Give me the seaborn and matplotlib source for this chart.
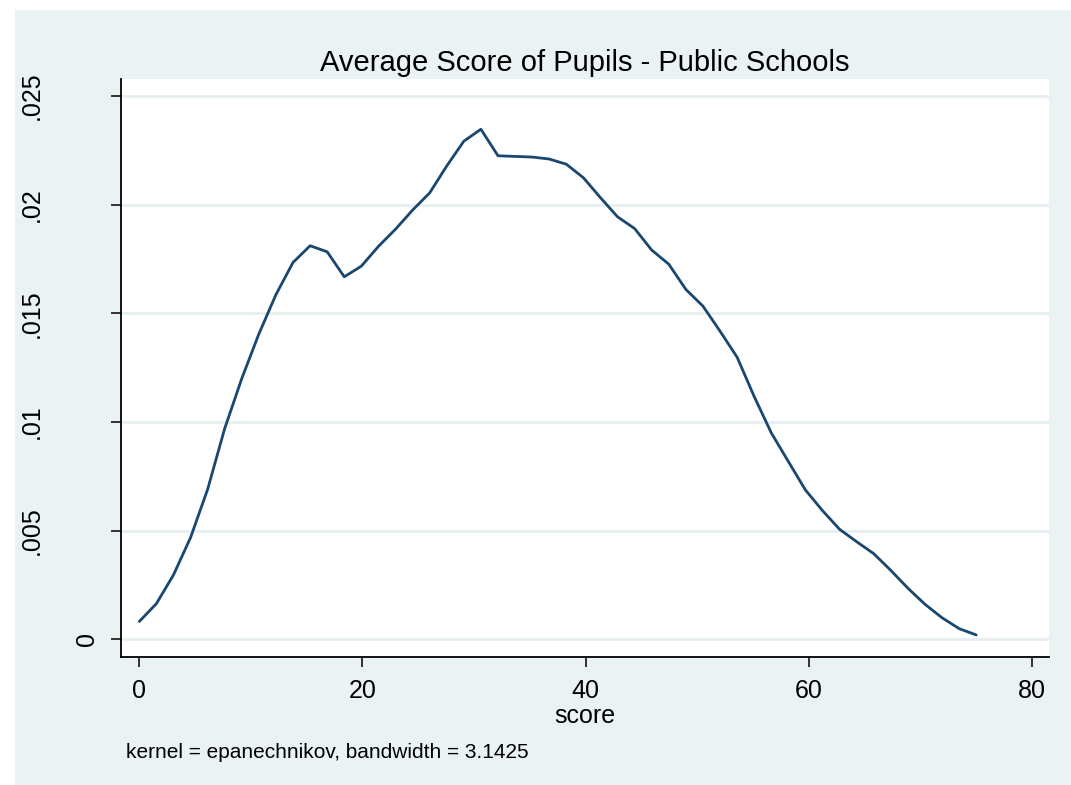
import numpy as np
import pandas as pd
import matplotlib
matplotlib.use("Agg")
import matplotlib.pyplot as plt
import matplotlib.transforms as mtransforms
from matplotlib.patches import Rectangle
import seaborn as sns

# Kernel density estimate of pupil scores (50 evaluation points, min to max)
score = np.linspace(0, 75, 50)
density = [
    0.00082, 0.00164, 0.00296, 0.00468, 0.00690, 0.00970, 0.01200, 0.01405,
    0.01586, 0.01734, 0.01811, 0.01783, 0.01668, 0.01717, 0.01808, 0.01887,
    0.01975, 0.02054, 0.02178, 0.02292, 0.02347, 0.02225, 0.02222, 0.02219,
    0.02210, 0.02186, 0.02124, 0.02032, 0.01944, 0.01890, 0.01791, 0.01726,
    0.01610, 0.01533, 0.01418, 0.01298, 0.01117, 0.00950, 0.00818, 0.00687,
    0.00592, 0.00506, 0.00449, 0.00394, 0.00317, 0.00235, 0.00161, 0.00099,
    0.00049, 0.00020,
]
x_ticks = [0, 20, 40, 60, 80]
y_ticks = [0, 0.005, 0.01, 0.015, 0.02, 0.025]
y_labels = ["0", ".005", ".01", ".015", ".02", ".025"]

title = "Average Score of Pupils - Public Schools"
x_title = "score"
note = "kernel = epanechnikov, bandwidth = 3.1425"

df = pd.DataFrame({"score": score, "density": density})

sns.set_style("white")
plt.rcParams["font.family"] = ["Liberation Sans", "DejaVu Sans"]
plt.rcParams["text.color"] = "black"
plt.rcParams["xtick.color"] = "black"
plt.rcParams["ytick.color"] = "black"
plt.rcParams["xtick.labelcolor"] = "black"

BG = "#EAF2F3"
GRID = "#E6EFF1"
LINE = "#1A476F"

W, H = 1071, 785
fig = plt.figure(figsize=(W / 100, H / 100), dpi=100, facecolor="white")
# graph region background (thin white strip on the left/top edges)
fig.patches.append(Rectangle((15 / W, 0), 1 - 15 / W, 1 - 10 / H,
                             transform=fig.transFigure, facecolor=BG,
                             edgecolor="none", zorder=-10))

L, R, T, B = 120.5, 1049, 79, 656.7
ax = fig.add_axes([L / W, 1 - B / H, (R - L) / W, (B - T) / H])
ax.set_facecolor("white")

sns.lineplot(data=df, x="score", y="density", ax=ax, color=LINE,
             linewidth=2.0, zorder=3)

ax.set_xlim(-1.685, 81.52)
ax.set_ylim(-0.000801, 0.025782)

for yt in y_ticks:
    ax.axhline(yt, color=GRID, linewidth=2.0, zorder=1)

for side in ["top", "right"]:
    ax.spines[side].set_visible(False)
for side in ["left", "bottom"]:
    ax.spines[side].set_color("black")
    ax.spines[side].set_linewidth(1.3)

ax.set_xticks(x_ticks)
ax.set_xticklabels([str(v) for v in x_ticks])
ax.tick_params(axis="x", bottom=True, direction="out", length=7.5,
               width=1.1, color="black", labelcolor="black", labelsize=18,
               pad=8.5)
ax.set_yticks(y_ticks)
ax.set_yticklabels([])
ax.tick_params(axis="y", left=True, direction="out", length=7.5, width=1.1,
               color="black")

# rotated y labels
for yt, lab in zip(y_ticks, y_labels):
    right_px = 99 if lab == "0" else 44
    off = mtransforms.ScaledTranslation(-(L - right_px) / 100, 0,
                                        fig.dpi_scale_trans)
    ax.text(0, yt, lab, rotation=90, ha="right", va="center", fontsize=18,
            color="black", transform=ax.get_yaxis_transform() + off,
            clip_on=False)

ax.set_xlabel("")
ax.set_ylabel("")

cx = (L + R) / 2 / W
fig.text(cx, 1 - 71.4 / H, title, ha="center", va="baseline", fontsize=21,
         color="black")
fig.text(cx, 1 - 723.3 / H, x_title, ha="center", va="baseline", fontsize=18,
         color="black")
fig.text(126 / W, 1 - 758.3 / H, note, ha="left", va="baseline", fontsize=15,
         color="black")

fig.savefig("out.png", dpi=100, facecolor=fig.get_facecolor())
